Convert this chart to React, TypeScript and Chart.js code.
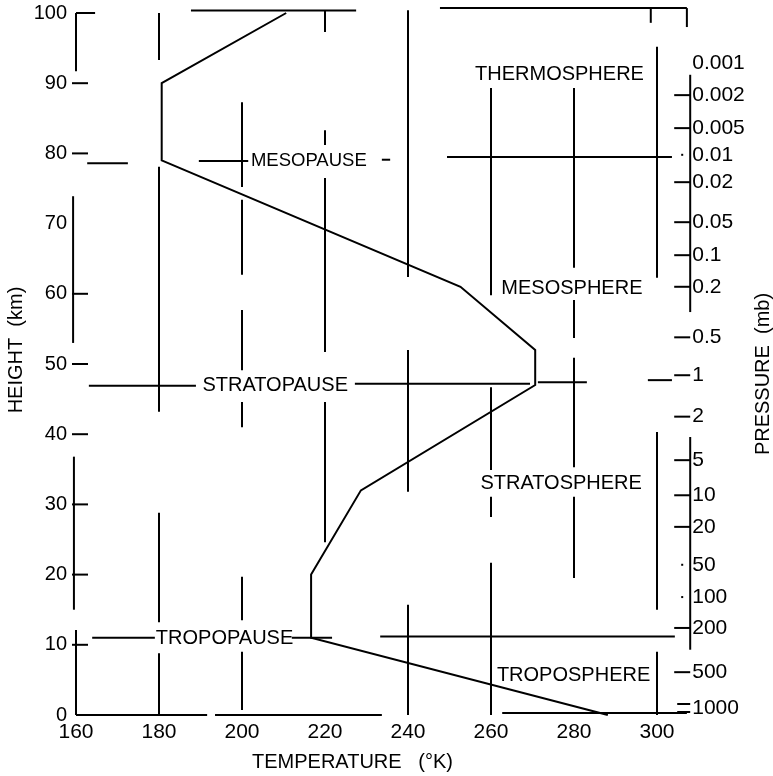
import React, { useEffect, useRef } from "react";
import { Chart, registerables } from "chart.js";

Chart.register(...registerables);

// ---- Data (US Standard Atmosphere profile) ----
const temperatureK = [288.15, 216.65, 216.65, 228.65, 270.65, 270.65, 252.65, 180.65, 180.65, 210.65];
const heightKm = [0, 11, 20, 32, 47, 52, 61, 79, 90, 100];

const temperatureTicks = [160, 180, 200, 220, 240, 260, 280, 300];
const heightTicks = [0, 10, 20, 30, 40, 50, 60, 70, 80, 90, 100];

const pressureLabels = ["0.001", "0.002", "0.005", "0.01", "0.02", "0.05", "0.1", "0.2", "0.5", "1", "2", "5", "10", "20", "50", "100", "200", "500", "1000"];
const pressureHeightKm = [92.9, 88.3, 83.6, 79.8, 75.9, 70.2, 65.5, 61.0, 53.8, 48.4, 42.5, 36.3, 31.3, 26.8, 21.4, 16.8, 12.4, 6.1, 1.0];

const layerNames = ["THERMOSPHERE", "MESOPAUSE", "MESOSPHERE", "STRATOPAUSE", "STRATOSPHERE", "TROPOPAUSE", "TROPOSPHERE"];
const layerTempK = [276.5, 216.1, 279.5, 208.0, 276.9, 195.8, 279.9];
const layerHeightKm = [91.2, 78.9, 60.8, 47.0, 33.0, 10.85, 5.7];

const xTitle = "TEMPERATURE   (°K)";
const yTitle = "HEIGHT  (km)";
const y2Title = "PRESSURE  (mb)";

const FONT = "'Liberation Sans', Arial, sans-serif";

// ---- Decorative broken frame / cross-hair lines of the scanned figure (in data units) ----
// vertical: [T, h1, h2]
const vSegments: number[][] = [
  [180, 100, 93.3], [180, 78.1, 43.2], [180, 28.8, 13.2], [180, 8.8, 0],
  [200, 87.3, 75.2], [200, 73.4, 62.7], [200, 57.7, 49.1], [200, 44.6, 41.0], [200, 19.7, 13.5], [200, 9.0, 0.7],
  [220, 100.3, 97.3], [220, 83.3, 81.2], [220, 76.5, 51.7], [220, 44.6, 24.6],
  [240, 100.4, 62.4], [240, 52.0, 31.8], [240, 15.7, 0],
  [260, 89.3, 59.8], [260, 46.7, 34.9], [260, 31.1, 28.2], [260, 21.7, 0],
  [280, 89.3, 63.7], [280, 59.1, 53.7], [280, 50.9, 35.3], [280, 31.1, 19.5],
  [300, 95.2, 62.3], [300, 40.3, 15.0], [300, 9.0, 0],
  [160, 100, 91.7], [159.3, 73.9, 53.0], [159.5, 36.8, 15.0], [160, 12.1, 0],
  [298.5, 100.7, 98.6], [307.2, 100.7, 98.0],
];
// horizontal: [h, T1, T2]
const hSegments: number[][] = [
  [100, 160, 164.6], [100.35, 187.7, 227.5], [100.7, 247.7, 307.2],
  [0, 160, 191.6], [0, 193.5, 233.7], [0.3, 262.7, 307.2],
  [78.6, 162.7, 172.5], [78.9, 189.6, 201.5], [79.1, 233.7, 235.7], [79.5, 249.4, 303.6],
  [46.9, 163.1, 188.9], [47.2, 227.2, 269.4], [47.4, 271.3, 283.1], [47.7, 297.8, 303.6],
  [11.0, 163.9, 179.0], [11.0, 212.0, 221.7], [11.2, 233.3, 304.3],
];
const leftTickHeights = [90, 80, 60, 50, 40, 30, 20, 10];
const pressureAxisT = 308;
const pressureAxisSpans: number[][] = [[91.2, 57.4], [39.6, 9.3]];

const sketchPlugin = {
  id: "sketch",
  afterDatasetsDraw(chart: any) {
    const { ctx } = chart;
    const xs = chart.scales.x;
    const ys = chart.scales.y;
    const X = (t: number) => xs.getPixelForValue(t);
    const Y = (h: number) => ys.getPixelForValue(h);
    ctx.save();
    ctx.strokeStyle = "#000";
    ctx.fillStyle = "#000";
    ctx.lineWidth = 2;
    const line = (x1: number, y1: number, x2: number, y2: number) => {
      ctx.beginPath();
      ctx.moveTo(x1, y1);
      ctx.lineTo(x2, y2);
      ctx.stroke();
    };
    vSegments.forEach(([t, h1, h2]) => line(X(t), Y(h1), X(t), Y(h2)));
    hSegments.forEach(([h, t1, t2]) => line(X(t1), Y(h), X(t2), Y(h)));
    // left axis ticks
    leftTickHeights.forEach((h) => line(X(160) - 4, Y(h), X(160) + 12, Y(h)));

    // pressure axis
    const px = X(pressureAxisT);
    pressureAxisSpans.forEach(([h1, h2]) => line(px, Y(h1), px, Y(h2)));
    ctx.font = `21px ${FONT}`;
    ctx.textAlign = "left";
    ctx.textBaseline = "middle";
    pressureLabels.forEach((lab, i) => {
      const py = Y(pressureHeightKm[i]);
      if (lab === "1000") {
        line(px - 13, py - 4, px, py - 4);
        line(px - 13, py + 4, px, py + 4);
      } else if (lab === "0.01" || lab === "50" || lab === "100") {
        ctx.fillRect(px - 9, py - 1, 2, 2);
      } else if (lab !== "0.001") {
        line(px - 16, py, px, py);
      }
      ctx.fillText(lab, px + 2, py);
    });

    // layer annotations
    ctx.textAlign = "center";
    layerNames.forEach((name, i) => {
      ctx.font = `${name === "MESOPAUSE" ? 18.5 : 20}px ${FONT}`;
      ctx.fillText(name, X(layerTempK[i]), Y(layerHeightKm[i]));
    });

    // axis titles
    ctx.font = `20px ${FONT}`;
    ctx.fillText(xTitle, (chart.chartArea.left + chart.chartArea.right) / 2 - 14, chart.height - 14);
    ctx.save();
    ctx.translate(16, (chart.chartArea.top + chart.chartArea.bottom) / 2 - 14);
    ctx.rotate(-Math.PI / 2);
    ctx.fillText(yTitle, 0, 0);
    ctx.restore();
    ctx.save();
    ctx.translate(chart.width - 10, (chart.chartArea.top + chart.chartArea.bottom) / 2 + 10);
    ctx.rotate(-Math.PI / 2);
    ctx.fillText(y2Title, 0, 0);
    ctx.restore();
    ctx.restore();
  },
};

export default function App() {
  const canvasRef = useRef<HTMLCanvasElement | null>(null);

  useEffect(() => {
    const canvas = canvasRef.current;
    if (!canvas) return;
    const chart = new Chart(canvas, {
      type: "scatter",
      data: {
        datasets: [
          {
            label: "Temperature",
            data: temperatureK.map((t, i) => ({ x: t, y: heightKm[i] })),
            showLine: true,
            borderColor: "#000",
            borderWidth: 2,
            pointRadius: 0,
            tension: 0,
            fill: false,
            clip: false,
          } as any,
        ],
      },
      options: {
        responsive: false,
        animation: false,
        devicePixelRatio: 1,
        layout: { padding: { top: 13, right: 116, left: 0, bottom: 0 } },
        plugins: {
          legend: { display: false },
          tooltip: { enabled: false },
        },
        scales: {
          x: {
            type: "linear",
            min: 160,
            max: 300,
            afterBuildTicks: (s: any) => {
              s.ticks = temperatureTicks.map((v) => ({ value: v }));
            },
            afterFit: (s: any) => {
              s.height = 61;
              s.paddingLeft = 0;
              s.paddingRight = 0;
            },
            ticks: {
              font: { family: FONT, size: 21 },
              color: "#000",
              padding: 5,
              autoSkip: false,
              maxRotation: 0,
            },
            grid: { display: false, drawTicks: false },
            border: { display: false },
          },
          y: {
            type: "linear",
            min: 0,
            max: 100,
            afterBuildTicks: (s: any) => {
              s.ticks = heightTicks.map((v) => ({ value: v }));
            },
            afterFit: (s: any) => {
              s.width = 76;
              s.paddingTop = 0;
              s.paddingBottom = 0;
            },
            ticks: {
              font: { family: FONT, size: 20 },
              color: "#000",
              padding: 9,
              autoSkip: false,
            },
            grid: { display: false, drawTicks: false },
            border: { display: false },
          },
        },
      },
      plugins: [sketchPlugin],
    });
    return () => chart.destroy();
  }, []);

  return (
    <div style={{ position: "absolute", left: 0, top: 0, width: 773, height: 776, background: "#fff" }}>
      <canvas ref={canvasRef} width={773} height={776} />
    </div>
  );
}
